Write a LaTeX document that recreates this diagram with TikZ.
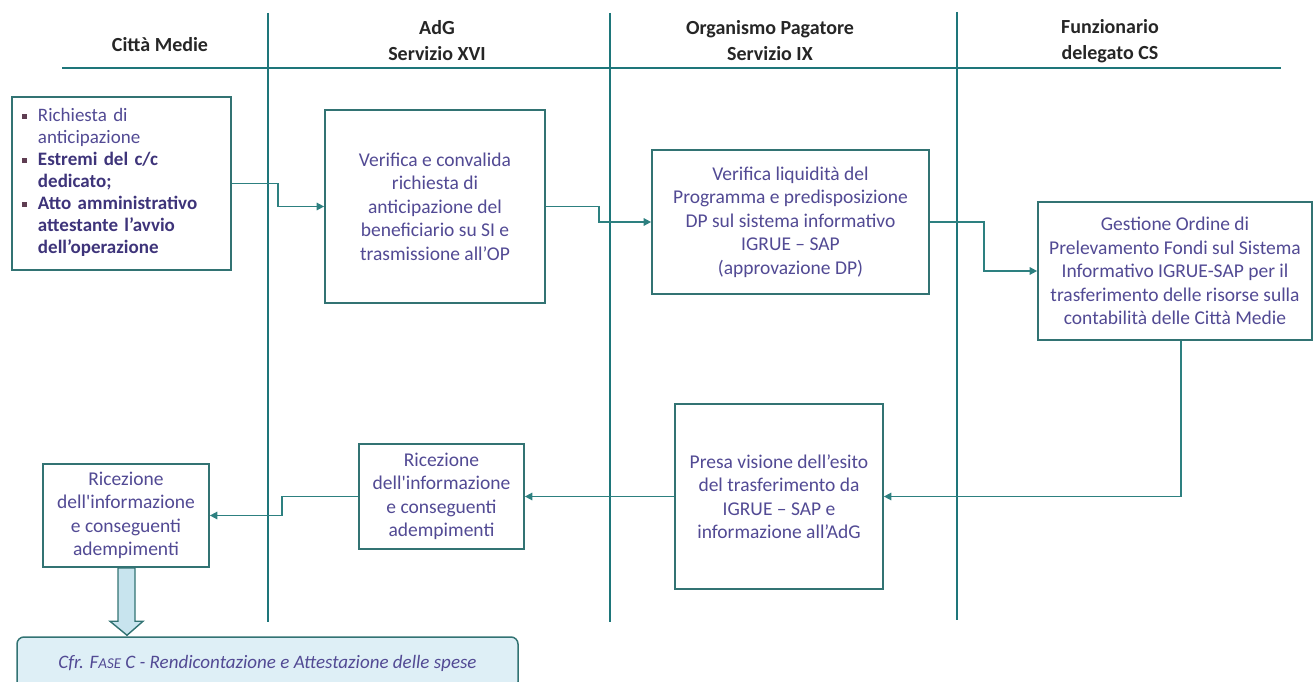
\documentclass[tikz,border=0pt]{standalone}
\usepackage{fontspec}
\setmainfont{Carlito}
\usetikzlibrary{arrows.meta, calc}

\definecolor{lanecol}{RGB}{30,118,122}
\definecolor{boxcol}{RGB}{50,115,115}
\definecolor{linkcol}{RGB}{45,128,128}
\definecolor{txtcol}{RGB}{82,74,148}
\definecolor{txtdark}{RGB}{62,52,122}
\definecolor{bulletcol}{RGB}{95,62,82}
\definecolor{fasefill}{RGB}{222,239,246}
\definecolor{arrowfill}{RGB}{200,228,238}

\tikzset{
	lane/.style={draw=lanecol, line width=2.8pt},
	head/.style={font=\fontsize{20}{26}\selectfont\bfseries, align=center, text=black!85},
	task/.style={
		draw=boxcol,
		line width=1.7pt,
		rectangle,
		fill=white,
		align=center,
		inner sep=4pt,
		text=txtcol,
		font=\fontsize{19.5}{23.5}\selectfont
	},
	edge/.style={-{Triangle[length=7.5pt,width=7.5pt]}, draw=linkcol, line width=1.5pt}
}
\newcommand{\sqbullet}{{\color{bulletcol}\rule[3pt]{5pt}{5pt}}}

\begin{document}
\begin{tikzpicture}[x=1pt, y=-1pt]
	\tikzset{fatarrow/.style={draw=boxcol, fill=arrowfill, line width=1.4pt, line join=miter}}
	\useasboundingbox (0,0) rectangle (1314,682);
	
	% swimlanes
	\draw[lane] (62,68) -- (1281,68);
	\draw[lane] (268,13) -- (268,622);
	\draw[lane] (610,13) -- (610,622);
	\draw[lane] (957,12) -- (957,620);
	
	\node(h_cm) at (160,45) [head] {Città Medie};
	\node(h_adg) at (437,41) [head] {AdG\\Servizio XVI};
	\node(h_op) at (770,41) [head] {Organismo Pagatore\\Servizio IX};
	\node(h_cs) at (1110,41) [head] {Funzionario\\delegato CS};
	
	% upper row
	\node(req) at (121.5,183.5) [task, minimum width=219pt, minimum height=173pt, text width=199pt, inner xsep=10pt, align=left, font=\fontsize{19}{22}\selectfont] {%
		\begin{tabular}{@{}l@{\hspace{11pt}}l@{}}
			\sqbullet & Richiesta di\\
			& anticipazione\\
			\sqbullet & \color{txtdark}\bfseries Estremi del c/c\\
			& \color{txtdark}\bfseries dedicato;\\
			\sqbullet & \color{txtdark}\bfseries Atto amministrativo\\
			& \color{txtdark}\bfseries attestante l’avvio\\
			& \color{txtdark}\bfseries dell’operazione
		\end{tabular}\par\vskip24pt};
	\node(verif) at (435,206.5) [task, minimum width=220pt, minimum height=193pt] {Verifica e convalida\\richiesta di\\anticipazione del\\beneficiario su SI e\\trasmissione all’OP};
	\node(liq) at (790.5,222) [task, minimum width=277pt, minimum height=144pt] {Verifica liquidità del\\Programma e predisposizione\\DP sul sistema informativo\\IGRUE -- SAP\\(approvazione DP)};
	\node(ordine) at (1175,271) [task, minimum width=274pt, minimum height=138pt] {Gestione Ordine di\\Prelevamento Fondi sul Sistema\\Informativo IGRUE-SAP per il\\trasferimento delle risorse sulla\\contabilità delle Città Medie};
	
	% lower row
	\node(presa) at (779,496.5) [task, minimum width=208pt, minimum height=185pt] {Presa visione dell’esito\\del trasferimento da\\IGRUE -- SAP e\\informazione all’AdG};
	\node(ric_adg) at (441.5,496.5) [task, minimum width=165pt, minimum height=105pt] {Ricezione\\dell\textquotesingle informazione\\e conseguenti\\adempimenti};
	\node(ric_cm) at (126,515.5) [task, minimum width=166pt, minimum height=103pt] {Ricezione\\dell\textquotesingle informazione\\e conseguenti\\adempimenti};
	
	\node(fase) at (267.5,663) [draw=boxcol, line width=1.5pt, fill=fasefill, rounded corners=7pt, minimum width=501pt, minimum height=52pt, text=txtcol, font=\fontsize{19}{23}\selectfont\itshape] {Cfr. F{\fontsize{15}{15}\selectfont ASE} C - Rendicontazione e Attestazione delle spese};
	
	\draw[edge] (req.east) -- ++(46,0) |- (verif.west);
	\draw[edge] (verif.east) -- ++(53,0) |- (liq.west);
	\draw[edge] (liq.east) -- ++(54,0) |- (ordine.west);
	\draw[edge] ([xshift=6pt]ordine.south) |- (presa.east);
	\draw[edge] (presa.west) -- (ric_adg.east);
	\draw[edge] (ric_adg.west) -- ++(-76,0) |- (ric_cm.east);
	
	% hollow arrow down to phase C
	\draw[fatarrow] ($(ric_cm.south)+(-8,0)$) -- ($(ric_cm.south |- fase.north)+(-8,-15)$)
		-- ++(-8,0) -- ($(ric_cm.south |- fase.north)+(1,-1)$) -- ($(ric_cm.south |- fase.north)+(17,-15)$)
		-- ++(-8,0) -- ($(ric_cm.south)+(9,0)$) -- cycle;
\end{tikzpicture}
\end{document}
